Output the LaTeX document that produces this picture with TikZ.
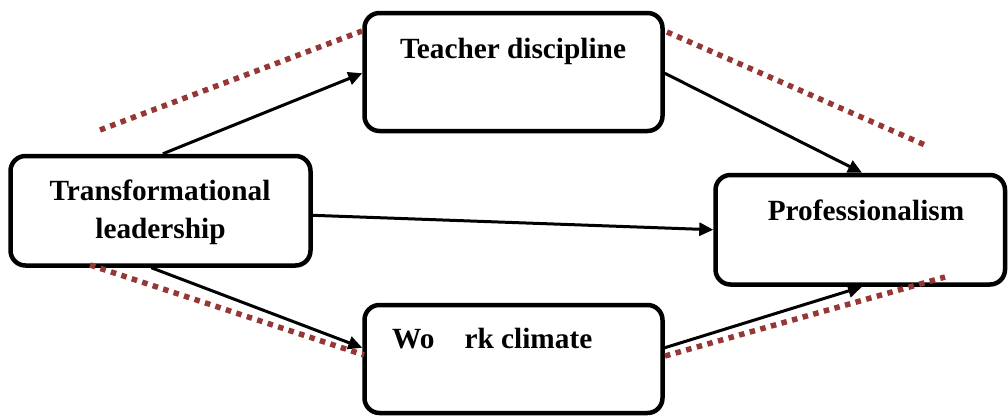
\documentclass[tikz,border=0pt]{standalone}
\usepackage{fontspec}
\setmainfont{Liberation Serif}
\usetikzlibrary{arrows.meta,calc}
\definecolor{dotred}{RGB}{149,55,53}
\tikzset{
  box/.style={draw, line width=4.5pt, rounded corners=15pt, fill=white, inner sep=0pt},
  lbl/.style={font=\fontsize{29.3}{35}\selectfont\bfseries, inner sep=0pt, anchor=base},
  conn/.style={line width=3pt, -{Triangle[length=14pt,width=13pt]}},
  dots/.style={line width=5.5pt, dotred, dash pattern=on 5.5pt off 5.5pt},
}
\begin{document}
\begin{tikzpicture}[x=1pt,y=-1pt]
\useasboundingbox (0,0) rectangle (1008,415);
\clip (0,0) rectangle (1008,415);
% boxes
\node[box, minimum width=300pt, minimum height=109.5pt] (tl) at (160.5,210.75) {};
\node[box, minimum width=298pt, minimum height=118pt] (td) at (513.5,72) {};
\node[box, minimum width=289.5pt, minimum height=109.5pt] (pr) at (860.25,229.75) {};
\node[box, minimum width=298pt, minimum height=108pt] (wc) at (513.5,359) {};
% labels
\node[lbl] (tlA) at (160,200) {Transformational};
\node[lbl] (tlB) at (160.5,238) {leadership};
\node[lbl] (tdL) at (513,58) {Teacher discipline};
\node[lbl] (prL) at (866,220) {Professionalism};
\node[lbl, anchor=base west] (wcL) at (392,348) {Wo\hspace{30pt}rk climate};
% connectors
\draw[conn] ($(tl.north west)!0.508!(tl.north east)$) -- ($(td.north west)!0.51!(td.south west)$);
\draw[conn] ($(td.north east)!0.51!(td.south east)$) -- ($(pr.north west)!0.506!(pr.north east)$);
\draw[conn] ($(tl.north east)!0.54!(tl.south east)$) -- (pr.west);
\draw[conn] ($(tl.south west)!0.47!(tl.south east)$) -- ($(wc.north west)!0.40!(wc.south west)$);
\draw[conn] ($(wc.north east)!0.40!(wc.south east)$) -- ($(pr.south west)!0.506!(pr.south east)$);
% dotted lines
\coordinate (d1a) at (100,130); \coordinate (d1b) at (362,31);
\coordinate (d2a) at (667,32);  \coordinate (d2b) at (925,145);
\coordinate (d3a) at (90,265);  \coordinate (d3b) at (364,355);
\coordinate (d4a) at (665,356); \coordinate (d4b) at (945,277);
\draw[dots] (d1a) -- (d1b);
\draw[dots] (d2a) -- (d2b);
\draw[dots] (d3a) -- (d3b);
\draw[dots] (d4a) -- (d4b);
\end{tikzpicture}
\end{document}
